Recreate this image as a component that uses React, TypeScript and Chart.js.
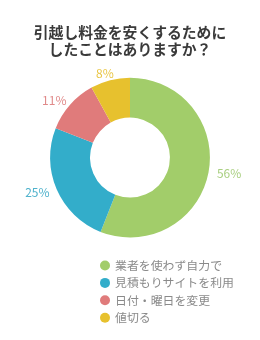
import React, { useEffect, useRef } from "react";
import { Chart, registerables } from "chart.js";

Chart.register(...registerables);

const titleLines = ["引越し料金を安くするために", "したことはありますか？"];
const categories = ["業者を使わず自力で", "見積もりサイトを利用", "日付・曜日を変更", "値切る"];
const values = [56, 25, 11, 8];
const colors = ["#a2cd6a", "#33adca", "#e07b7b", "#e7c12e"];
const labelColors = ["#a9cf80", "#4fb2cc", "#e08a8a", "#e9c646"];

const FONT = "'Noto Sans CJK JP', 'Noto Sans', sans-serif";

const outsideLabels = {
  id: "outsideLabels",
  afterDatasetsDraw(chart: any) {
    const ctx = chart.ctx;
    const meta = chart.getDatasetMeta(0);
    ctx.save();
    ctx.font = `12px ${FONT}`;
    ctx.textAlign = "center";
    ctx.textBaseline = "middle";
    meta.data.forEach((arc: any, i: number) => {
      const p = arc.getProps(["x", "y", "startAngle", "endAngle", "outerRadius"], true);
      const mid = (p.startAngle + p.endAngle) / 2;
      const x = p.x + Math.cos(mid) * (p.outerRadius + 21);
      const y = p.y + Math.sin(mid) * (p.outerRadius + 7);
      ctx.fillStyle = labelColors[i];
      ctx.fillText(values[i] + "%", x, y);
    });
    ctx.restore();
  },
};

const customLegend = {
  id: "customLegend",
  afterDraw(chart: any) {
    const ctx = chart.ctx;
    const top = chart.chartArea.bottom + 28;
    ctx.save();
    ctx.font = `11.9px ${FONT}`;
    ctx.textAlign = "left";
    ctx.textBaseline = "middle";
    categories.forEach((c, i) => {
      const y = top + i * 17.4;
      ctx.beginPath();
      ctx.arc(105, y, 5, 0, Math.PI * 2);
      ctx.fillStyle = colors[i];
      ctx.fill();
      ctx.fillStyle = "#8a8a8a";
      ctx.fillText(c, 115, y);
    });
    ctx.restore();
  },
};

export default function App() {
  const ref = useRef<HTMLCanvasElement>(null);
  useEffect(() => {
    document.body.style.margin = "0";
    const chart = new Chart(ref.current!, {
      type: "doughnut",
      data: {
        labels: categories,
        datasets: [
          {
            data: values,
            backgroundColor: colors,
            borderWidth: 0,
          },
        ],
      },
      options: {
        animation: false,
        responsive: false,
        cutout: "50%",
        layout: { padding: { top: 0, bottom: 102.5, left: 0, right: 0 } },
        plugins: {
          legend: { display: false },
          tooltip: { enabled: false },
          title: {
            display: true,
            text: titleLines,
            color: "#3a3a3a",
            font: { size: 14.8, weight: "bold", family: FONT, lineHeight: 1.12 },
            padding: { top: 24.2, bottom: 20.3 },
          },
        },
      },
      plugins: [outsideLabels, customLegend],
    });
    return () => chart.destroy();
  }, []);
  return (
    <div style={{ width: 260, height: 340 }}>
      <canvas ref={ref} width={260} height={340} style={{ display: "block" }} />
    </div>
  );
}
